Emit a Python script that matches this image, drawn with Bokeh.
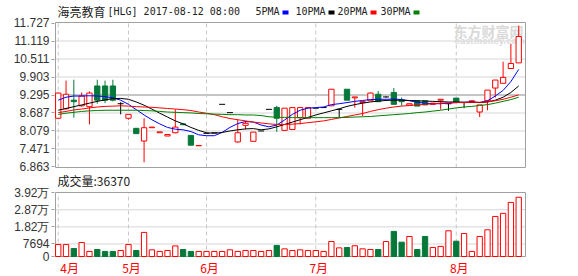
from bokeh.plotting import figure
from bokeh.models import Range1d, FixedTicker, NumeralTickFormatter, ColumnDataSource
from bokeh.core.properties import value
from bokeh.embed import file_html
from bokeh.resources import INLINE

# ---------------- data ----------------
open_ = [8.51, 8.83, 9.12, 8.93, 8.90, 9.60, 9.60, 9.60, 9.00, 8.51,
         8.17, 7.74, 8.19, 8.02, 7.91, 8.02, 8.32, 7.93, 7.58, 8.00,
         8.02, 8.98, 8.70, 7.71, 8.27, 7.73, 8.08, 8.81, 8.87, 8.10,
         8.13, 8.53, 8.51, 8.85, 8.87, 8.93, 8.81, 9.49, 9.20, 9.04,
         9.10, 9.32, 9.23, 9.38, 9.12, 8.95, 9.10, 9.10, 8.98, 9.12,
         9.00, 9.19, 9.04, 9.07, 8.72, 9.10, 9.53, 9.69, 10.19, 10.38]
close = [9.36, 9.32, 9.07, 9.26, 9.36, 9.12, 9.12, 9.12, 9.00, 8.64,
         7.99, 8.19, 8.21, 8.05, 7.96, 8.21, 8.29, 7.60, 7.59, 8.00,
         8.02, 8.98, 8.70, 8.02, 8.34, 8.04, 8.08, 8.81, 8.51, 8.85,
         8.87, 8.87, 8.87, 8.85, 8.87, 9.49, 8.81, 9.12, 9.23, 9.07,
         9.36, 9.07, 9.23, 8.98, 9.07, 9.00, 8.92, 8.96, 9.02, 9.15,
         9.00, 9.04, 9.04, 9.10, 8.96, 9.46, 9.80, 9.89, 10.36, 11.27]
high = [9.38, 9.78, 9.81, 9.38, 9.42, 9.81, 9.78, 9.81, 9.05, 8.64,
        8.17, 8.51, 8.21, 8.05, 7.96, 8.81, 8.32, 7.93, 7.59, 8.00,
        8.02, 8.98, 8.70, 8.47, 8.42, 8.04, 8.08, 8.81, 8.93, 8.85,
        8.87, 8.87, 8.87, 8.85, 8.87, 9.49, 8.81, 9.49, 9.23, 9.07,
        9.38, 9.43, 9.25, 9.53, 9.21, 9.00, 9.10, 9.10, 9.02, 9.15,
        9.00, 9.19, 9.04, 9.10, 8.96, 9.46, 9.80, 10.42, 11.02, 11.64]
low = [8.48, 8.80, 8.53, 8.90, 8.30, 9.00, 9.02, 9.08, 8.64, 8.46,
       7.99, 7.02, 8.19, 8.02, 7.91, 8.00, 8.29, 7.60, 7.58, 8.00,
       8.02, 8.98, 8.70, 7.68, 8.13, 7.73, 8.08, 8.81, 8.05, 8.08,
       8.13, 8.30, 8.51, 8.85, 8.87, 8.93, 8.53, 9.12, 8.87, 8.58,
       9.10, 9.07, 9.20, 8.98, 8.93, 8.93, 8.92, 8.96, 8.98, 8.80,
       8.76, 9.04, 8.85, 9.07, 8.55, 8.78, 9.21, 9.69, 10.19, 10.38]
volume = [7400, 7400, 4900, 8600, 3100, 4300, 3100, 3100, 3700, 7400,
          3700, 14800, 4100, 3100, 3700, 6500, 4300, 3100, 3100, 3100,
          3100, 3100, 4100, 3100, 3700, 3700, 3100, 3700, 6800, 4700,
          3700, 4100, 3700, 3700, 3100, 9200, 5300, 5500, 6600, 4700,
          4300, 4300, 9200, 15400, 8800, 12300, 4300, 12300, 5500, 6200,
          15800, 9400, 14100, 3100, 12300, 16400, 24600, 26500, 33200, 36370]
ma5 = [9.12, 9.22, 9.26, 9.26, 9.27, 9.26, 9.24, 9.20, 9.12, 8.98,
       8.80, 8.62, 8.46, 8.32, 8.20, 8.14, 8.12, 8.06, 7.95, 7.92,
       7.92, 8.03, 8.20, 8.33, 8.40, 8.38, 8.28, 8.22, 8.28, 8.45,
       8.64, 8.78, 8.85, 8.87, 8.89, 8.97, 9.00, 9.04, 9.08, 9.11,
       9.14, 9.15, 9.15, 9.16, 9.14, 9.10, 9.05, 9.02, 9.00, 9.00,
       9.02, 9.04, 9.05, 9.06, 9.04, 9.10, 9.26, 9.45, 9.75, 10.16]
ma10 = [8.78, 8.84, 8.90, 8.96, 9.02, 9.08, 9.13, 9.17, 9.18, 9.15,
        9.06, 8.95, 8.82, 8.68, 8.55, 8.42, 8.32, 8.20, 8.10, 8.02,
        8.00, 8.03, 8.08, 8.12, 8.15, 8.16, 8.12, 8.15, 8.22, 8.30,
        8.38, 8.46, 8.54, 8.62, 8.69, 8.76, 8.83, 8.91, 8.97, 9.02,
        9.06, 9.09, 9.11, 9.12, 9.12, 9.11, 9.10, 9.09, 9.08, 9.07,
        9.06, 9.06, 9.05, 9.05, 9.04, 9.06, 9.12, 9.22, 9.38, 9.60]
ma20 = [8.70, 8.74, 8.79, 8.82, 8.86, 8.89, 8.91, 8.92, 8.93, 8.92,
        8.90, 8.89, 8.88, 8.86, 8.84, 8.82, 8.80, 8.77, 8.72, 8.68,
        8.63, 8.56, 8.50, 8.46, 8.42, 8.38, 8.35, 8.32, 8.30, 8.30,
        8.31, 8.33, 8.36, 8.39, 8.42, 8.47, 8.52, 8.57, 8.62, 8.67,
        8.74, 8.80, 8.85, 8.89, 8.92, 8.94, 8.96, 8.98, 9.00, 9.02,
        9.03, 9.04, 9.04, 9.05, 9.05, 9.06, 9.10, 9.15, 9.22, 9.30]
ma30 = [8.64, 8.68, 8.71, 8.74, 8.76, 8.77, 8.78, 8.78, 8.78, 8.78,
        8.78, 8.77, 8.76, 8.74, 8.72, 8.71, 8.70, 8.69, 8.67, 8.66,
        8.65, 8.64, 8.63, 8.63, 8.62, 8.62, 8.60, 8.56, 8.54, 8.54,
        8.53, 8.53, 8.53, 8.53, 8.53, 8.53, 8.53, 8.54, 8.55, 8.56,
        8.57, 8.59, 8.61, 8.63, 8.65, 8.67, 8.70, 8.72, 8.75, 8.78,
        8.82, 8.86, 8.89, 8.91, 8.94, 8.97, 9.02, 9.08, 9.14, 9.22]
month_labels = ["4月", "5月", "6月", "7月", "8月"]
month_starts = [0, 9, 19, 33, 51]
price_ticks = [6.863, 7.471, 8.079, 8.687, 9.295, 9.903, 10.511, 11.119, 11.727]
vol_ticks = [0, 7694, 18200, 28700, 39200]
vol_tick_labels = ["0", "7694", "1.82万", "2.87万", "3.92万"]
stock_name = "海亮教育"
stock_info = "[HLG] 2017-08-12 08:00"
ma_names = ["5PMA", "10PMA", "20PMA", "30PMA"]
ma_series = [ma5, ma10, ma20, ma30]

# ---------------- styles ----------------
W, H = 578, 276
RED = "#ff0000"
GREEN = "#06793a"
BLACK = "#000000"
MA_COLORS = ["#0000ff", "#000000", "#ff0000", "#008000"]
FRAME = "#a0a0a0"
GRID = "#d6d6d6"
DASH = "#c8c8c8"
TXT = "#222222"
CJK = "Noto Sans CJK SC"
MONO = "DejaVu Sans Mono"
BW = 0.68

# ---------------- panel geometry (page pixels) ----------------
PX_L, PX_R = 55, 525                 # both panels, left / right edge
P_TOP, P_BOT = 22, 167               # price panel
V_TOP, V_BOT = 192, 256              # volume panel
X_LO, X_HI = -0.35, 59.87            # x extent shown in the panels
P_LO, P_HI = 6.846, 11.744           # price extent shown
V_LO, V_HI = 0, 39300                # volume extent shown
FL, FR = PX_L - 1, PX_R + 1          # drawing frame, 1px outside the panels

xpp = (X_HI - X_LO) / (PX_R - PX_L)
ppp = (P_HI - P_LO) / (P_BOT - P_TOP)
vpp = (V_HI - V_LO) / (V_BOT - V_TOP)
x_range = Range1d(X_LO - (PX_L - FL) * xpp, X_HI + (FR - PX_R) * xpp)
p_range = Range1d(P_LO - (H - P_BOT) * ppp, P_HI + P_TOP * ppp)
v_range = Range1d(V_LO - (H - V_BOT) * vpp, V_HI + V_TOP * vpp)


def vol_as_price(vv):
    """Position of a volume value, expressed on the price scale (for the shared left axis)."""
    px = V_BOT - (vv - V_LO) / vpp
    return P_LO + (P_BOT - px) * ppp


n = len(close)
idx = list(range(n))
up_i = [i for i in idx if close[i] > open_[i]]
dn_i = [i for i in idx if close[i] < open_[i]]
fl_i = [i for i in idx if close[i] == open_[i]]


def src(ids):
    return ColumnDataSource(dict(
        x=ids,
        o=[open_[i] for i in ids], h=[high[i] for i in ids],
        l=[low[i] for i in ids], c=[close[i] for i in ids],
        v=[volume[i] for i in ids]))


up_s, dn_s, fl_s = src(up_i), src(dn_i), src(fl_i)
vol_red = src(up_i + fl_i)

p = figure(width=W, height=H, x_range=x_range, y_range=p_range, title=None,
           output_backend="svg", toolbar_location=None, x_axis_location=None,
           min_border_left=FL, min_border_right=W - FR, min_border_top=0, min_border_bottom=0)
p.extra_y_ranges = {"vol": v_range, "px": Range1d(H, 0)}
p.extra_x_ranges = {"px": Range1d(FL, FR)}
p.grid.visible = False
p.outline_line_color = None
p.background_fill_color = "white"

# ---------------- left axis (price + volume labels) ----------------
vol_pos = [vol_as_price(t) for t in vol_ticks]
ax = p.yaxis[0]
ax.ticker = FixedTicker(ticks=price_ticks + vol_pos)
ax.formatter = NumeralTickFormatter(format="0.000")
ax.major_label_overrides = {pos: lab for pos, lab in zip(vol_pos, vol_tick_labels)}
ax.major_label_text_font = "Liberation Sans"
ax.major_label_text_font_size = "12px"
ax.major_label_text_color = "#333333"
ax.axis_line_color = None
ax.major_tick_line_color = FRAME
ax.major_tick_out = 3
ax.major_tick_in = 0
ax.minor_tick_line_color = None
ax.major_label_standoff = 2

# ---------------- grids ----------------
inner_p = price_ticks[1:-1]
p.segment(x0=X_LO, x1=X_HI, y0=inner_p, y1=inner_p, line_color=GRID)
mid = price_ticks[len(price_ticks) // 2]
p.segment(x0=X_LO, x1=X_HI, y0=mid, y1=mid, line_color=FRAME)
inner_v = vol_ticks[1:-1]
p.segment(x0=X_LO, x1=X_HI, y0=inner_v, y1=inner_v, line_color=GRID, y_range_name="vol")
p.segment(x0=month_starts, x1=month_starts, y0=P_LO, y1=P_HI, line_color=DASH, line_dash="4 3")
p.segment(x0=month_starts, x1=month_starts, y0=V_LO, y1=V_HI, line_color=DASH, line_dash="4 3",
          y_range_name="vol")

# watermark
p.text(x=[453], y=[30], text=["东方财富网"], text_font=value(CJK), text_font_size="14px",
       text_font_style="bold", text_color="#d9d9d9", text_baseline="middle",
       x_range_name="px", y_range_name="px")
p.text(x=[454], y=[41], text=["eastmoney.com"], text_font=value("DejaVu Sans"),
       text_font_size="8px", text_font_style="bold", text_color="#dddddd",
       text_baseline="middle", x_range_name="px", y_range_name="px")

# panel borders
p.quad(left=X_LO, right=X_HI, bottom=P_LO, top=P_HI, fill_color=None, line_color=FRAME)
p.quad(left=X_LO, right=X_HI, bottom=V_LO, top=V_HI, fill_color=None, line_color=FRAME,
       y_range_name="vol")

# ---------------- candles ----------------
p.segment(x0="x", y0="h", x1="x", y1="c", source=up_s, line_color=RED)
p.segment(x0="x", y0="o", x1="x", y1="l", source=up_s, line_color=RED)
p.vbar(x="x", top="c", bottom="o", width=BW, source=up_s, fill_color="white", line_color=RED)
p.segment(x0="x", y0="h", x1="x", y1="l", source=dn_s, line_color=GREEN)
p.vbar(x="x", top="o", bottom="c", width=BW, source=dn_s, fill_color=GREEN, line_color=GREEN)
p.segment(x0="x", y0="h", x1="x", y1="l", source=fl_s, line_color=BLACK)
p.scatter(x="x", y="c", source=fl_s, marker="dash", size=6, line_color=BLACK)

for ser, col in zip(ma_series, MA_COLORS):
    p.line(idx, ser, line_color=col, line_width=1)

# ---------------- volume bars ----------------
p.vbar(x="x", top="v", bottom=V_LO, width=BW, source=vol_red, fill_color="white",
       line_color=RED, y_range_name="vol")
p.vbar(x="x", top="v", bottom=V_LO, width=BW, source=dn_s, fill_color=GREEN,
       line_color=GREEN, y_range_name="vol")

# ---------------- texts ----------------
p.text(x=[57], y=[11], text=[stock_name], text_font=value(CJK), text_font_size="12px",
       text_color=TXT, text_baseline="middle", x_range_name="px", y_range_name="px")
p.text(x=[107], y=[11], text=[stock_info], text_font=value(MONO), text_font_size="10px",
       text_color=TXT, text_baseline="middle", x_range_name="px", y_range_name="px")
legend_x = [255, 295, 337, 380]
p.text(x=legend_x, y=[11] * 4, text=ma_names, text_font=value(MONO), text_font_size="10px",
       text_color=TXT, text_baseline="middle", x_range_name="px", y_range_name="px")
p.rect(x=[lx + len(nm) * 6 + 6 for lx, nm in zip(legend_x, ma_names)], y=[12] * 4,
       width=6, height=4, width_units="screen", height_units="screen",
       fill_color=MA_COLORS, line_color=None, x_range_name="px", y_range_name="px")

p.text(x=[57], y=[180], text=["成交量:" + str(volume[-1])], text_font=value(CJK),
       text_font_size="12px", text_color=TXT, text_baseline="middle",
       x_range_name="px", y_range_name="px")

p.text(x=month_starts[:1], y=[267], text=month_labels[:1], text_font=value(CJK),
       text_font_size="12px", text_color=RED, text_baseline="middle",
       text_align="left", x_offset=2, y_range_name="px")
p.text(x=month_starts[1:], y=[267] * (len(month_starts) - 1), text=month_labels[1:],
       text_font=value(CJK), text_font_size="12px", text_color=RED,
       text_baseline="middle", text_align="center", x_offset=3, y_range_name="px")

open("out.html", "w").write(file_html(p, INLINE))
